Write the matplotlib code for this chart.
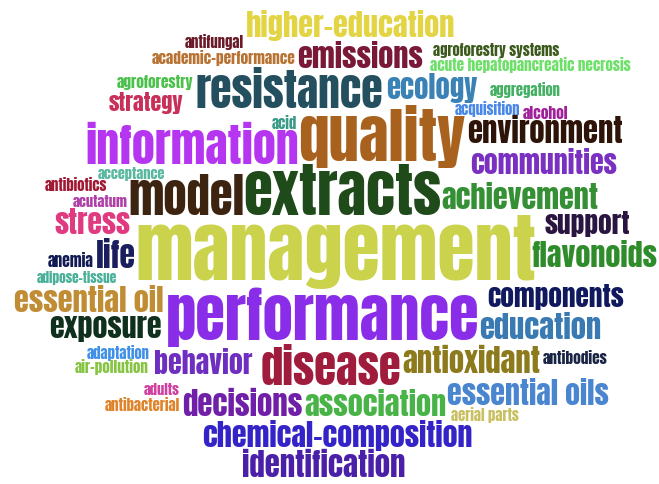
import matplotlib
matplotlib.use("Agg")
import matplotlib.pyplot as plt
from matplotlib import font_manager as fm
from matplotlib.textpath import TextPath

# ---------------- data ----------------
WORDS = [
    "higher-education", "antifungal", "academic-performance", "emissions",
    "agroforestry systems", "acute hepatopancreatic necrosis", "agroforestry",
    "resistance", "ecology", "aggregation", "strategy", "acquisition", "alcohol",
    "acid", "quality", "information", "environment", "communities", "acceptance",
    "antibiotics", "acutatum", "model", "extracts", "achievement", "stress",
    "management", "support", "flavonoids", "life", "anemia", "adipose-tissue",
    "essential oil", "performance", "components", "exposure", "education",
    "adaptation", "behavior", "disease", "antioxidant", "antibodies",
    "air-pollution", "adults", "antibacterial", "decisions", "association",
    "essential oils", "aerial parts", "chemical-composition", "identification",
]
# relative weight of each keyword (letter height in the cloud)
FREQ = [
    26, 12, 13, 26,
    13, 13, 12,
    42, 22, 12, 17, 12, 12,
    12, 51, 41, 28, 23, 11,
    12, 11, 40, 50, 25, 23,
    60, 21, 30, 27, 14, 11,
    27, 52, 21, 22, 26,
    12, 23, 42, 27, 13,
    13, 11, 13, 27, 25,
    27, 12, 27, 29,
]

# ---------------- styles ----------------
COLORS = [
    "#e2d443", "#6a1a28", "#b87333", "#7a1838",
    "#3d5a1e", "#6ee06a", "#4cc04c",
    "#234f5f", "#3a82b5", "#44b064", "#c8305a", "#4a88e8", "#a0209a",
    "#3a9a88", "#a8621e", "#b535f0", "#2e1408", "#7a30c0", "#5ab8a0",
    "#a01832", "#b040a8", "#3c2410", "#1f4a1a", "#359035", "#e03a80",
    "#cbd24c", "#2a1440", "#2e8c2a", "#1a1e5e", "#121a55", "#48b098",
    "#c08c34", "#8a2de8", "#10185e", "#10301e", "#3a7ab2",
    "#4090e8", "#6e2ec0", "#a01c3c", "#8c7a1c", "#1a2444",
    "#88c444", "#d040a0", "#e0842c", "#7020a8", "#48b448",
    "#4a86d0", "#c8c060", "#3424c8", "#4a20a8",
]

# ---------------- layout (left, right, baseline) in canvas pixels ----------------
LAYOUT = [
    (247, 455, 36), (183, 245, 47), (152, 295, 63), (298, 422, 67),
    (433, 560, 56), (430, 630, 71), (117, 193, 87),
    (197, 382, 109), (382, 483, 98), (488, 562, 95), (97, 195, 110), (453, 522, 114), (523, 568, 118),
    (271, 297, 128), (300, 465, 158), (87, 297, 163), (468, 622, 143), (465, 622, 173), (97, 167, 178),
    (43, 108, 190), (72, 128, 206), (130, 243, 215), (245, 440, 215), (442, 598, 208), (55, 130, 233),
    (138, 535, 277), (542, 633, 233), (532, 657, 268), (97, 135, 267), (48, 93, 267), (32, 122, 282),
    (15, 163, 311), (168, 478, 340), (482, 630, 306), (50, 161, 338), (480, 600, 338),
    (85, 150, 358), (152, 255, 373), (262, 400, 385), (403, 540, 372), (543, 607, 363),
    (75, 148, 373), (143, 180, 394), (105, 180, 411), (183, 302, 415), (305, 445, 415),
    (448, 608, 405), (450, 520, 420), (203, 472, 447), (243, 405, 477),
]

W_PX, H_PX, DPI = 659, 485, 100


def _w(f):
    w = f.weight
    if isinstance(w, str):
        w = fm.weight_dict.get(w, 400)
    return w


def pick_font():
    fl = fm.fontManager.ttflist
    names = ["Anton", "League Gothic", "Oswald", "Fjalla One", "Francois One",
             "Antonio", "Pathway Gothic One", "Roboto Condensed",
             "Barlow Condensed", "Saira Extra Condensed", "Archivo Narrow",
             "Liberation Sans Narrow", "Open Sans Condensed"]
    for n in names:
        m = [f for f in fl if f.name == n and f.style == "normal"]
        if m:
            best = max(m, key=_w)
            return fm.FontProperties(fname=best.fname)
    for key in ("ExtraCondensed-Bold", "ExtraCondensedBold", "Condensed-Bold", "CondensedBold"):
        m = [f for f in fl if key in f.fname.split("/")[-1] and "Italic" not in f.fname]
        if m:
            return fm.FontProperties(fname=sorted(m, key=lambda f: f.fname)[0].fname)
    return fm.FontProperties(family="DejaVu Sans", weight="bold")


fp = pick_font()

fig = plt.figure(figsize=(W_PX / DPI, H_PX / DPI), dpi=DPI)
ax = fig.add_axes([0, 0, 1, 1])
ax.set_xlim(0, W_PX)
ax.set_ylim(H_PX, 0)
ax.axis("off")
fig.patch.set_facecolor("white")

for word, freq, col, (x0, x1, base) in zip(WORDS, FREQ, COLORS, LAYOUT):
    ext = TextPath((0, 0), word, size=100, prop=fp).get_extents()
    w100 = ext.x1 - ext.x0
    h100 = max(ext.y1, 1e-6)
    tw = x1 - x0
    fs_w = 100 * tw / w100
    fs_h = 100 * freq * 1.12 / h100
    fs = min(fs_w, fs_h)
    aw = w100 * fs / 100
    ah = h100 * fs / 100
    x = x0 + (tw - aw) / 2 - ext.x0 * fs / 100
    y = base - (freq - ah) / 2
    ax.text(x, y, word, fontproperties=fp, fontsize=fs * 72 / DPI,
            color=col, ha="left", va="baseline")

fig.savefig("out.png", dpi=DPI, facecolor="white")
